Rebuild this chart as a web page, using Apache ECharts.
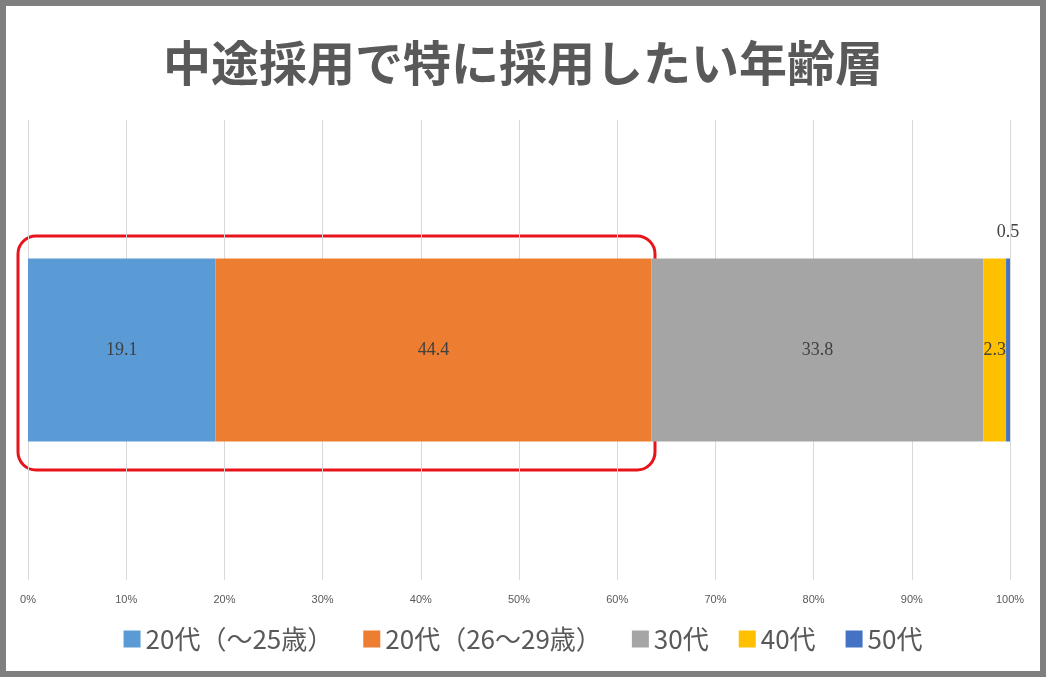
<!DOCTYPE html>
<html><head><meta charset="utf-8">
<script src="https://cdn.jsdelivr.net/npm/echarts@6/dist/echarts.min.js"></script>
<style>html,body{margin:0;padding:0;background:#fff}#c{width:1046px;height:677px;box-sizing:border-box;border:6px solid #7f7f7f}</style>
</head><body><div id="c"></div>
<script>
const title = '中途採用で特に採用したい年齢層';
const categories = [''];
const seriesNames = ['20代（～25歳）', '20代（26～29歳）', '30代', '40代', '50代'];
const seriesValues = [[19.1], [44.4], [33.8], [2.3], [0.5]];
const colors = ['#5B9BD5', '#ED7D31', '#A5A5A5', '#FFC000', '#4472C4'];
const chart = echarts.init(document.getElementById('c'));
chart.setOption({
  animation: false,
  title: {text: title, left: 'center', top: 28, textStyle: {fontFamily: 'Noto Sans CJK JP', fontWeight: 'bold', fontSize: 48, color: '#595959'}},
  grid: {left: 22, right: 30, top: 114, bottom: 91},
  xAxis: {type: 'value', min: 0, max: 100, interval: 10, axisLabel: {formatter: '{value}%', fontSize: 11, color: '#595959', margin: 14},
    splitLine: {lineStyle: {color: '#d9d9d9'}}, axisLine: {show: false}, axisTick: {show: false}},
  yAxis: {type: 'category', data: categories, axisLine: {show: false}, axisTick: {show: false}},
  legend: {bottom: 14, itemWidth: 17, itemHeight: 17, itemGap: 30, icon: 'rect', textStyle: {fontFamily: 'Noto Sans CJK JP', fontSize: 26, color: '#595959'}},
  series: seriesNames.map((n, i) => ({
    name: n, type: 'bar', stack: 'a', barWidth: 183, data: seriesValues[i],
    itemStyle: {color: colors[i]},
    label: i === 4 ? {show: true, position: 'top', offset: [0, -12], fontSize: 18, color: '#404040', fontFamily: 'Liberation Serif'}
                   : {show: true, position: 'inside', fontSize: 18, color: '#404040', fontFamily: 'Liberation Serif'}
  })),
  graphic: [{type: 'rect', shape: {x: 12, y: 230, width: 637, height: 234, r: 18}, style: {fill: 'none', stroke: '#E8141C', lineWidth: 3}}]
});
</script></body></html>
